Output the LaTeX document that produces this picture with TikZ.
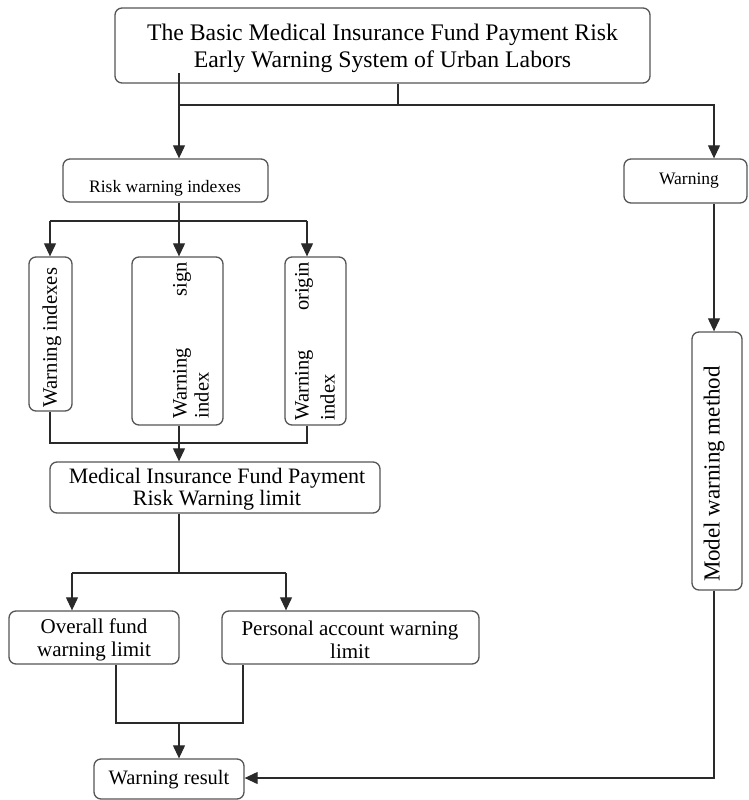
\documentclass[tikz,border=0pt]{standalone}
\usepackage{fontspec}
\setmainfont{Liberation Serif}
\usetikzlibrary{arrows.meta}
\definecolor{boxgray}{HTML}{555555}
\definecolor{linegray}{HTML}{2A2A2A}

\begin{document}
\begin{tikzpicture}[x=1pt,y=-1pt,
  box/.style={draw=boxgray, line width=1.3pt, rounded corners=7pt, inner sep=0pt},
  conn/.style={draw=linegray, line width=1.1pt},
  arr/.style={conn, -{Triangle[length=13pt,width=12pt]}},
  bigtext/.style={font=\fontsize{23.75}{27}\selectfont, align=center, inner sep=0pt},
  midtext/.style={font=\fontsize{21}{23}\selectfont, align=center, inner sep=0pt},
  smalltext/.style={font=\fontsize{17.5}{20}\selectfont, inner sep=0pt}]
\useasboundingbox (0,0) rectangle (749,800);

% ---- boxes ----
\node[box, minimum width=535pt, minimum height=75pt] (top) at (382.5,45.5) {};
\node[bigtext] (top-t) at (382.5,48)
  {The Basic Medical Insurance Fund Payment Risk\\Early Warning System of Urban Labors};

\node[box, minimum width=205pt, minimum height=43pt] (risk) at (165.5,180.5) {};
\node[smalltext] (risk-t) at (165,188) {Risk warning indexes};

\node[box, minimum width=123pt, minimum height=44pt] (warn) at (685.5,181) {};
\node[smalltext] (warn-t) at (689,181) {Warning};

\node[box, minimum width=43pt, minimum height=154pt] (wi) at (50.5,334) {};
\node[font=\fontsize{20.7}{22}\selectfont, inner sep=0pt, rotate=90] (wi-t) at (52,337.5) {Warning indexes};

\node[box, minimum width=91pt, minimum height=168pt] (sig) at (177.5,341) {};
\node[font=\fontsize{20.5}{22}\selectfont, inner sep=0pt, rotate=90] (sig-t) at (191,340)
  {\parbox{156pt}{Warning\hfill sign\\index}};

\node[box, minimum width=61pt, minimum height=168pt] (org) at (315.5,341) {};
\node[font=\fontsize{20.5}{26}\selectfont, inner sep=0pt, rotate=90] (org-t) at (315,341)
  {\parbox{158pt}{Warning\hfill origin\\index}};

\node[box, minimum width=330pt, minimum height=51pt] (med) at (215,487.5) {};
\node[font=\fontsize{22}{22.5}\selectfont, align=center, inner sep=0pt] (med-t) at (217,489)
  {Medical Insurance Fund Payment\\Risk Warning limit};

\node[box, minimum width=170pt, minimum height=53pt] (ovr) at (94,637.5) {};
\node[midtext] (ovr-t) at (94,640) {Overall fund\\warning limit};

\node[box, minimum width=257pt, minimum height=53pt] (per) at (350.5,637.5) {};
\node[midtext] (per-t) at (350,640) {Personal account warning\\limit};

\node[box, minimum width=150pt, minimum height=40pt] (res) at (169,779) {};
\node[font=\fontsize{20.5}{22}\selectfont, inner sep=0pt] (res-t) at (169,780) {Warning result};

\node[box, minimum width=50pt, minimum height=258pt] (mdl) at (717,461) {};
\node[font=\fontsize{23}{25}\selectfont, inner sep=0pt, rotate=90] (mdl-t) at (714,474) {Model warning method};

% ---- junction points ----
\coordinate (t1) at (179,73);
\coordinate (j1) at (179,105);
\coordinate (sx) at (398,105);
\coordinate (rx) at (714,105);
\coordinate (b1) at (179,221);
\coordinate (b1L) at (50,221);
\coordinate (b1R) at (307,221);
\coordinate (m1) at (179,443);
\coordinate (m1L) at (50,443);
\coordinate (m1R) at (307,443);
\coordinate (b2) at (179,573);
\coordinate (b2L) at (72,573);
\coordinate (b2R) at (286,573);
\coordinate (m2) at (179,723);
\coordinate (m2L) at (116,723);
\coordinate (m2R) at (243,723);
\coordinate (rb) at (714,778);

% ---- connectors ----
\draw[arr] (t1) -- (t1 |- risk.north);
\draw[conn] (sx |- top.south) -- (sx);
\draw[arr] (j1) -- (rx) -- (rx |- warn.north);

\draw[arr] (b1 |- risk.south) -- (b1 |- sig.north);
\draw[conn] (b1L) -- (b1R);
\draw[arr] (b1L) -- (b1L |- wi.north);
\draw[arr] (b1R) -- (b1R |- org.north);

\draw[conn] (m1L |- wi.south) -- (m1L) -- (m1R) -- (m1R |- org.south);
\draw[arr] (m1 |- sig.south) -- (m1 |- med.north);

\draw[conn] (b2 |- med.south) -- (b2);
\draw[conn] (b2L) -- (b2R);
\draw[arr] (b2L) -- (b2L |- ovr.north);
\draw[arr] (b2R) -- (b2R |- per.north);

\draw[conn] (m2L |- ovr.south) -- (m2L) -- (m2R) -- (m2R |- per.south);
\draw[arr] (m2) -- (m2 |- res.north);

\draw[arr] (rx |- warn.south) -- (rx |- mdl.north);
\draw[arr] (rb |- mdl.south) -- (rb) -- (rb -| res.east);
\end{tikzpicture}
\end{document}
